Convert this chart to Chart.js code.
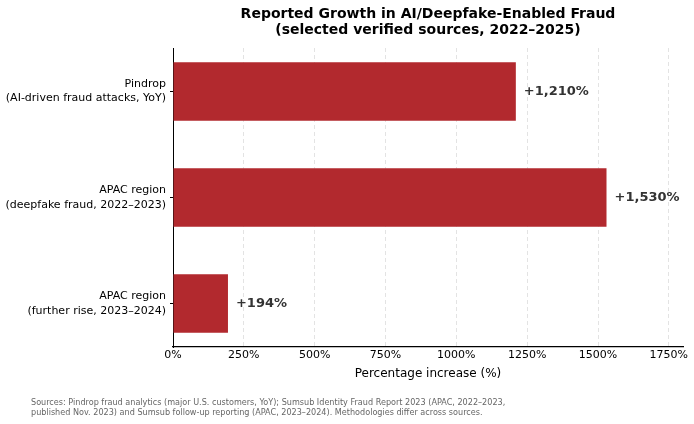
<!DOCTYPE html>
<html>
<head>
<meta charset="utf-8">
<script src="https://cdn.jsdelivr.net/npm/chart.js@4"></script>
<style>
  html, body { margin: 0; padding: 0; background: #fff; }
  #wrap { width: 694px; height: 424px; position: relative; }
</style>
</head>
<body>
<div id="wrap"><canvas id="fraudChart"></canvas></div>
<script>
const categories = [
  ["Pindrop", "(AI-driven fraud attacks, YoY)"],
  ["APAC region", "(deepfake fraud, 2022\u20132023)"],
  ["APAC region", "(further rise, 2023\u20132024)"]
];
const growthPct = [1210, 1530, 194];
const valueLabels = ["+1,210%", "+1,530%", "+194%"];
const xTicks = [0, 250, 500, 750, 1000, 1250, 1500, 1750];
const titleLines = ["Reported Growth in AI/Deepfake-Enabled Fraud", "(selected verified sources, 2022\u20132025)"];
const sourceLines = [
  "Sources: Pindrop fraud analytics (major U.S. customers, YoY); Sumsub Identity Fraud Report 2023 (APAC, 2022\u20132023,",
  "published Nov. 2023) and Sumsub follow-up reporting (APAC, 2023\u20132024). Methodologies differ across sources."
];

const FONT = "'DejaVu Sans', sans-serif";

// title, value labels and footnote
const extras = {
  id: "extras",
  afterDatasetsDraw(chart) {
    const ctx = chart.ctx;
    const meta = chart.getDatasetMeta(0);
    ctx.save();
    ctx.fillStyle = "#333";
    ctx.font = "bold 13px " + FONT;
    ctx.textAlign = "left";
    ctx.textBaseline = "middle";
    meta.data.forEach((bar, i) => {
      ctx.fillText(valueLabels[i], bar.x + 8, bar.y);
    });
    ctx.restore();
  },
  afterDraw(chart) {
    const ctx = chart.ctx;
    const a = chart.chartArea;
    ctx.save();
    ctx.fillStyle = "#000";
    ctx.font = "bold 14px " + FONT;
    ctx.textAlign = "center";
    ctx.textBaseline = "middle";
    const cx = (a.left + a.right) / 2;
    ctx.fillText(titleLines[0], cx, 14);
    ctx.fillText(titleLines[1], cx, 30);

    ctx.fillStyle = "#666";
    ctx.font = "8.1px " + FONT;
    ctx.textAlign = "left";
    ctx.fillText(sourceLines[0], 31, 403);
    ctx.fillText(sourceLines[1], 31, 413);
    ctx.restore();
  }
};

new Chart(document.getElementById("fraudChart"), {
  type: "bar",
  data: {
    datasets: [{
      data: growthPct.map((v, i) => ({ x: v, y: i })),
      backgroundColor: "#b2292e",
      categoryPercentage: 1,
      barPercentage: 0.55
    }]
  },
  options: {
    indexAxis: "y",
    responsive: true,
    maintainAspectRatio: false,
    animation: false,
    layout: { padding: { top: 48, right: 11, bottom: 37, left: 0 } },
    plugins: {
      legend: { display: false },
      tooltip: { enabled: false }
    },
    scales: {
      x: {
        type: "linear",
        min: 0,
        max: 1800,
        z: 1,
        afterBuildTicks: s => {
          s.ticks = xTicks.map(v => ({ value: v }));
        },
        afterFit: s => { s.height = 40; },
        ticks: {
          color: "#000",
          font: { family: FONT, size: 11 },
          padding: 2,
          maxRotation: 0,
          callback: v => v + "%"
        },
        grid: {
          color: "rgba(0,0,0,0.11)",
          drawTicks: false
        },
        border: { display: true, color: "#000", width: 1.2, dash: [4, 3] },
        title: {
          display: true,
          text: "Percentage increase (%)",
          color: "#000",
          font: { family: FONT, size: 12 },
          padding: { top: 2, bottom: 6 }
        }
      },
      y: {
        type: "linear",
        min: -0.41,
        max: 2.41,
        reverse: true,
        offset: false,
        afterBuildTicks: s => {
          s.ticks = [0, 1, 2].map(v => ({ value: v }));
        },
        afterFit: s => { s.width = 173; },
        ticks: {
          color: "#000",
          font: { family: FONT, size: 11, lineHeight: 1.3 },
          padding: 4,
          callback: v => categories[v]
        },
        grid: {
          display: true,
          offset: false,
          drawOnChartArea: false,
          tickLength: 3,
          tickColor: "#000"
        },
        border: { display: true, color: "#000", width: 1 }
      }
    }
  },
  plugins: [extras]
});
</script>
</body>
</html>
